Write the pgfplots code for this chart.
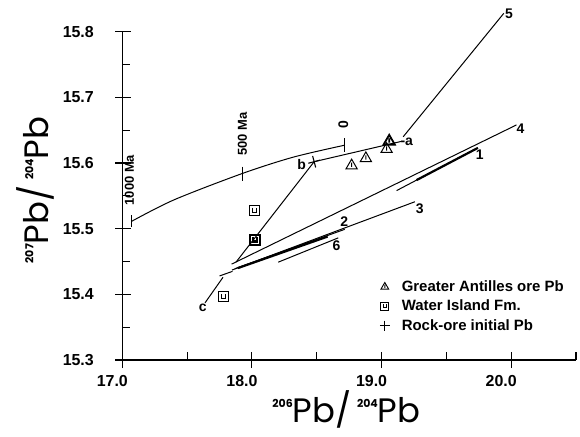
\documentclass[border=0pt]{standalone}
\usepackage{fontspec}
\setmainfont{Liberation Sans}
\newfontfamily\labfont{Poppins}
\usepackage{pgfplots}
\pgfplotsset{compat=1.18}

% triangle with a short bar inside
\pgfdeclareplotmark{tribar}{%
  \pgfpathmoveto{\pgfqpointpolar{90}{\pgfplotmarksize}}%
  \pgfpathlineto{\pgfqpointpolar{210}{\pgfplotmarksize}}%
  \pgfpathlineto{\pgfqpointpolar{330}{\pgfplotmarksize}}%
  \pgfpathclose
  \pgfpathmoveto{\pgfqpoint{0pt}{0.45\pgfplotmarksize}}%
  \pgfpathlineto{\pgfqpoint{0pt}{-0.2\pgfplotmarksize}}%
  \pgfusepathqstroke}
% square with a small U inside
\pgfdeclareplotmark{squ}{%
  \pgfpathrectangle{\pgfqpoint{-\pgfplotmarksize}{-\pgfplotmarksize}}{\pgfqpoint{2\pgfplotmarksize}{2\pgfplotmarksize}}%
  \pgfpathmoveto{\pgfqpoint{-0.4\pgfplotmarksize}{0.55\pgfplotmarksize}}%
  \pgfpathlineto{\pgfqpoint{-0.4\pgfplotmarksize}{-0.35\pgfplotmarksize}}%
  \pgfpathlineto{\pgfqpoint{0.4\pgfplotmarksize}{-0.35\pgfplotmarksize}}%
  \pgfpathlineto{\pgfqpoint{0.4\pgfplotmarksize}{0.55\pgfplotmarksize}}%
  \pgfusepathqstroke}

\newcommand{\iso}[1]{\raisebox{15bp}{\fontsize{11}{11}\selectfont\bfseries #1}}

\begin{document}
\begin{tikzpicture}
\path[use as bounding box] (-122.3bp,-77bp) rectangle (457.7bp,360bp);
\begin{axis}[
  at={(0,0)}, anchor=south west,
  scale only axis, width=453.7bp, height=328.3bp,
  xmin=17, xmax=20.5, ymin=15.3, ymax=15.8,
  axis x line*=bottom, axis y line*=left,
  axis line style={line width=1.2bp},
  clip=false,
  xtick={17,18,19,20}, minor xtick={17.5,18.5,19.5,20.5},
  ytick={15.3,15.4,15.5,15.6,15.7,15.8},
  minor ytick={15.35,15.45,15.55,15.65,15.75},
  tick align=inside,
  major tick length=16bp, minor tick length=8bp,
  every tick/.style={black, line width=1.1bp},
  major x tick style={yshift=-8bp},
  major y tick style={xshift=-7bp},
  xticklabel style={font=\bfseries\fontsize{16}{16}\selectfont, xshift=-10bp, yshift=-12bp},
  yticklabel style={font=\bfseries\fontsize{16}{16}\selectfont, xshift=-25bp},
  /pgf/number format/.cd, fixed, fixed zerofill, precision=1, assume math mode=true,
  /pgfplots/.cd,
  xlabel={\labfont\fontsize{34}{34}\selectfont\iso{206}Pb/\,\iso{204}Pb},
  ylabel={\labfont\fontsize{34}{34}\selectfont\iso{207}Pb/\,\iso{204}Pb},
  xlabel style={at={(axis description cs:0.494,-0.152)}, anchor=center},
  ylabel style={at={(axis description cs:-0.192,0.518)}, anchor=center},
  legend style={draw=none, fill=none, at={(axis cs:18.985,15.424)}, anchor=north west,
    font=\bfseries\fontsize{15}{15}\selectfont, row sep=3bp, inner sep=0pt,
    /tikz/every odd column/.append style={column sep=10bp}},
  legend cell align=left,
  every axis plot/.append style={black, line width=1bp},
]
\addlegendimage{only marks, mark=tribar, mark size=4.5bp, line width=0.9bp}
\addlegendentry{Greater Antilles ore Pb}
\addlegendimage{only marks, mark=squ, mark size=4bp, line width=0.9bp}
\addlegendentry{Water Island Fm.}
\addlegendimage{only marks, mark=+, mark size=5bp, line width=0.9bp}
\addlegendentry{Rock-ore initial Pb}

% growth curve
\addplot[smooth, forget plot] coordinates {(17.07,15.511) (17.40,15.544) (17.925,15.584) (18.32,15.609) (18.712,15.627)};
\addplot[only marks, mark=|, mark size=7bp, forget plot] coordinates {(17.925,15.584) (18.712,15.627)};
\addplot[only marks, mark=|, mark size=6bp, forget plot] coordinates {(17.07,15.511)};

% ore lines
\addplot[forget plot] coordinates {(18.48,15.602) (19.154,15.633)};
\addplot[forget plot] coordinates {(18.48,15.602) (17.877,15.449)};
\addplot[forget plot] coordinates {(19.167,15.640) (19.943,15.828)};
\addplot[forget plot] coordinates {(17.843,15.446) (20.041,15.658)};
\addplot[forget plot] coordinates {(19.116,15.558) (19.743,15.623)};
\addplot[forget plot, line width=2.2bp] coordinates {(19.27,15.574) (19.743,15.623)};
\addplot[forget plot] coordinates {(17.846,15.437) (19.257,15.541)};
\addplot[forget plot] coordinates {(17.868,15.439) (18.716,15.499)};
\addplot[forget plot, line width=2.2bp] coordinates {(17.892,15.440) (18.584,15.488)};
\addplot[forget plot] coordinates {(18.203,15.449) (18.666,15.486)};
\addplot[forget plot] coordinates {(17.638,15.387) (17.777,15.426)};
\addplot[forget plot] coordinates {(17.75,15.428) (17.85,15.435)};

% data points
\addplot[only marks, mark=tribar, mark size=6.5bp, line width=1bp, forget plot] coordinates {(18.769,15.596) (18.879,15.607) (19.039,15.621)};
\addplot[only marks, mark=tribar, mark size=6.5bp, line width=1.8bp, forget plot] coordinates {(19.059,15.633)};
\addplot[only marks, mark=squ, mark size=5bp, line width=1bp, forget plot] coordinates {(18.023,15.528) (17.784,15.396)};
\addplot[only marks, mark=squ, mark size=5bp, line width=2.2bp, forget plot] coordinates {(18.023,15.483)};
\addplot[only marks, mark=+, mark size=6bp, line width=1.1bp, mark options={rotate=15}, forget plot] coordinates {(18.48,15.602)};

% annotations
\begin{scope}[every node/.style={font=\bfseries\fontsize{14}{14}\selectfont, inner sep=0pt}]
\node at (axis cs:19.194,15.633) {-a};
\node at (axis cs:18.383,15.597) {b};
\node at (axis cs:17.62,15.380) {c};
\node at (axis cs:19.758,15.612) {1};
\node at (axis cs:18.712,15.511) {2};
\node at (axis cs:19.295,15.531) {3};
\node at (axis cs:20.072,15.652) {4};
\node at (axis cs:19.984,15.827) {5};
\node at (axis cs:18.653,15.474) {6};
\node[rotate=90, font=\bfseries\fontsize{13}{13}\selectfont] at (axis cs:17.055,15.574) {1000 Ma};
\node[rotate=90, font=\bfseries\fontsize{13}{13}\selectfont] at (axis cs:17.927,15.644) {500 Ma};
\node[rotate=90, font=\bfseries\fontsize{14}{14}\selectfont] at (axis cs:18.705,15.658) {0};
\end{scope}
\end{axis}
\end{tikzpicture}
\end{document}
